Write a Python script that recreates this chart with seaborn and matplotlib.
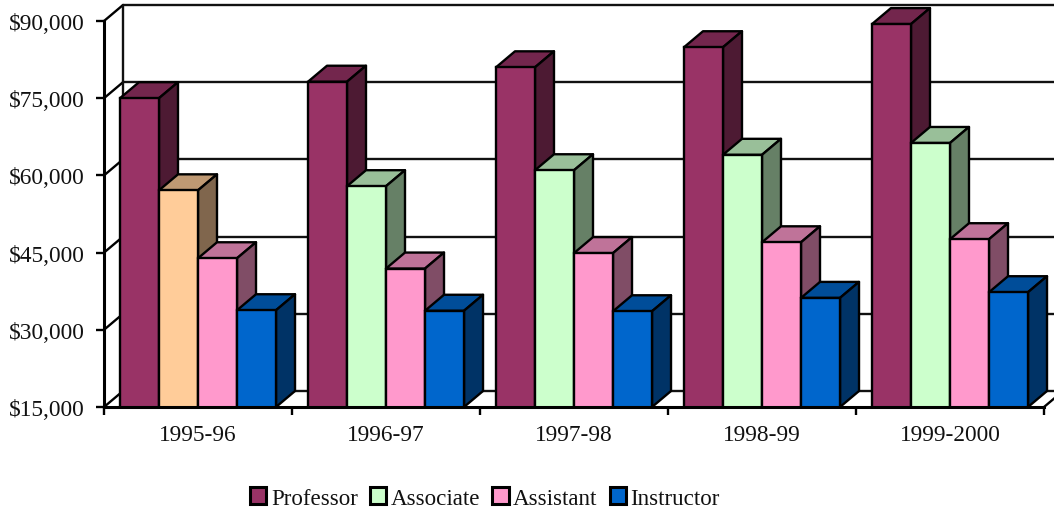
import matplotlib.pyplot as plt
import matplotlib.colors as mcolors
import pandas as pd
import seaborn as sns
from matplotlib.patches import Polygon, Patch

years = ["1995-96", "1996-97", "1997-98", "1998-99", "1999-2000"]
ranks = ["Professor", "Associate", "Assistant", "Instructor"]
professor = [75000, 78200, 81000, 84900, 89400]
associate = [57100, 57900, 61000, 64000, 66300]
assistant = [43900, 41900, 44900, 47000, 47600]
instructor = [33800, 33700, 33600, 36200, 37300]
colors = ["#993366", "#CCFFCC", "#FF99CC", "#0066CC"]
odd_color = "#FFCC99"  # first associate bar is orange in the original
y_ticks = [15000, 30000, 45000, 60000, 75000, 90000]

W, H = 1054, 510
LEFT, RIGHT, BOTTOM, TOP = 104, 1044, 408, 22
DEPTH_PX = (19, 16)
LW = 1.7
FONT = 16.8

df = pd.DataFrame({
    "year": years * 4,
    "rank": [r for r in ranks for _ in years],
    "salary": professor + associate + assistant + instructor,
})

sns.set_theme(style="white")
plt.rcParams["font.family"] = ["Liberation Serif", "DejaVu Serif"]
plt.rcParams["font.size"] = FONT

fig = plt.figure(figsize=(W / 100, H / 100), dpi=100)
ax = fig.add_axes([LEFT / W, 1 - BOTTOM / H, (RIGHT - LEFT) / W, (BOTTOM - TOP) / H])
ax.patch.set_alpha(0)

sns.barplot(data=df, x="year", y="salary", hue="rank", hue_order=ranks, palette=colors,
            width=0.83, gap=0, saturation=1, edgecolor="black", linewidth=LW,
            legend=False, ax=ax)

ax.set_xlim(-0.5, len(years) - 0.5)
ax.set_ylim(y_ticks[0], y_ticks[-1])
ax.set_xlabel("")
ax.set_ylabel("")
ax.set_yticks(y_ticks)
ax.set_yticklabels([f"${v:,}" for v in y_ticks], fontsize=FONT, color="#111111")
ax.set_xticks(range(len(years)))
ax.set_xticklabels(years, fontsize=FONT, color="#111111")
ax.set_xticks([i - 0.5 for i in range(len(years) + 1)], minor=True)
ax.tick_params(axis="y", length=5.8, width=LW, color="black", pad=8, left=True)
ax.tick_params(axis="x", which="major", length=0, pad=12.2)
ax.tick_params(axis="x", which="minor", length=5.8, width=LW, color="black", bottom=True)

for side in ["top", "right"]:
    ax.spines[side].set_visible(False)
for side in ["left", "bottom"]:
    ax.spines[side].set_linewidth(2.2)
    ax.spines[side].set_color("black")
    ax.spines[side].set_zorder(1000)

# depth of the fake 3D box, in data units
dx = DEPTH_PX[0] * (len(years)) / (RIGHT - LEFT)
dy = DEPTH_PX[1] * (y_ticks[-1] - y_ticks[0]) / (BOTTOM - TOP)
x0, x1 = ax.get_xlim()

# back wall and left wall
for v in y_ticks:
    ax.plot([x0 + dx, x1 + dx], [v + dy, v + dy], color="#111111", lw=LW, zorder=1, clip_on=False)
    ax.plot([x0, x0 + dx], [v, v + dy], color="black", lw=LW, zorder=1, clip_on=False)
ax.plot([x0 + dx, x0 + dx], [y_ticks[0] + dy, y_ticks[-1] + dy], color="#111111", lw=LW, zorder=1, clip_on=False)
ax.plot([x1, x1 + dx], [y_ticks[0], y_ticks[0] + dy], color="black", lw=LW, zorder=1, clip_on=False)

# extrude every bar, left to right so that later bars cover earlier sides
bars = sorted([p for p in ax.patches if p.get_height() > 0], key=lambda p: p.get_x())
for i, bar in enumerate(bars):
    if i == 1:
        bar.set_facecolor(odd_color)
    face = mcolors.to_rgb(bar.get_facecolor())
    left, w, top = bar.get_x(), bar.get_width(), bar.get_height()
    z = 10 + i * 3
    base = y_ticks[0]
    top_face = Polygon([(left, top), (left + dx, top + dy), (left + w + dx, top + dy), (left + w, top)],
                       closed=True, facecolor=[c * 0.75 for c in face], edgecolor="black",
                       lw=LW, joinstyle="round", zorder=z, clip_on=False)
    side_face = Polygon([(left + w, top), (left + w + dx, top + dy), (left + w + dx, base + dy), (left + w, base)],
                        closed=True, facecolor=[c * 0.5 for c in face], edgecolor="black",
                        lw=LW, joinstyle="round", zorder=z, clip_on=False)
    ax.add_patch(top_face)
    ax.add_patch(side_face)
    bar.set_zorder(z + 1)

handles = [Patch(facecolor=c, edgecolor="black", lw=2.2, label=r) for r, c in zip(ranks, colors)]
fig.legend(handles=handles, loc="center", bbox_to_anchor=(485 / W, 1 - 499 / H), ncol=4,
           frameon=False, fontsize=16.6, handlelength=0.7, handleheight=0.7,
           handletextpad=0.2, columnspacing=0.53, borderpad=0, labelcolor="#111111")

fig.savefig("out.png", dpi=100)
